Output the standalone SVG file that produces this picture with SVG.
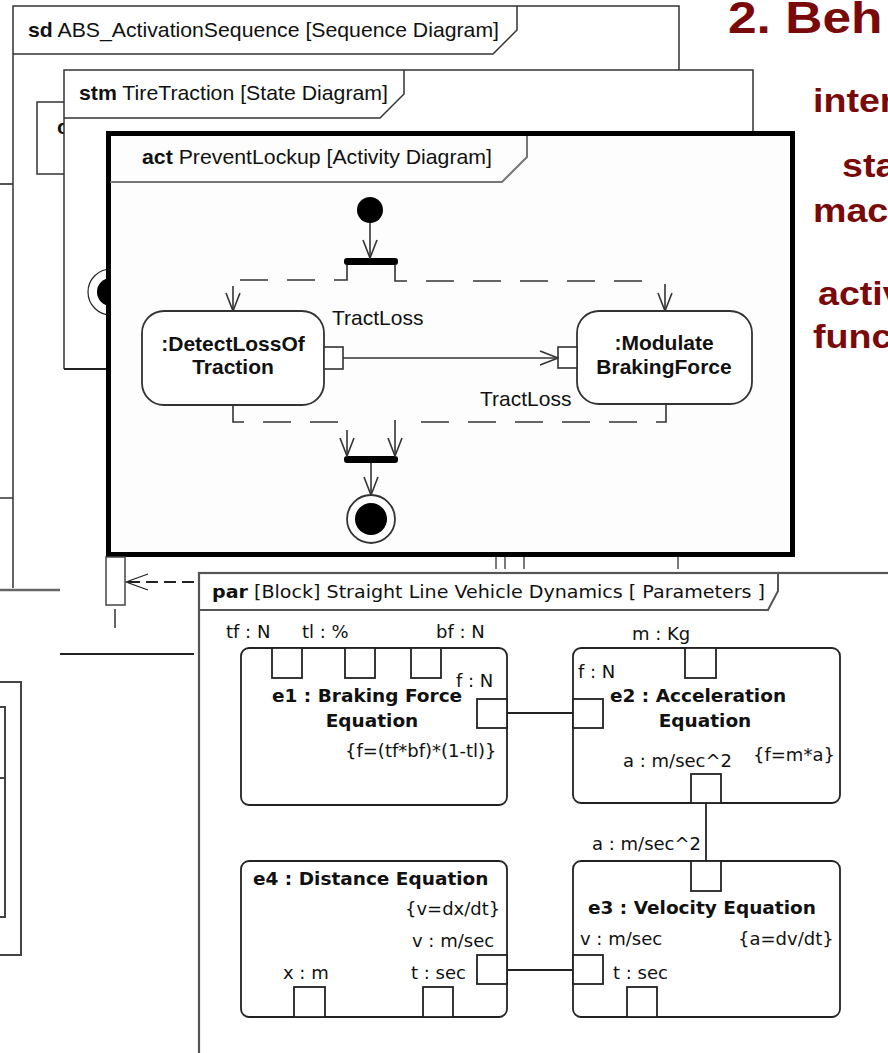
<svg xmlns="http://www.w3.org/2000/svg" width="888" height="1053" viewBox="0 0 888 1053">
<defs>
<style>
 .frame{fill:#fff;stroke:none}
 .edge{fill:none;stroke:#333;stroke-width:1.5}
 .t21{font-family:"Liberation Sans",Arial,sans-serif;font-size:21px;fill:#111}
 .b{font-weight:bold}
 .node{fill:#fff;stroke:#333;stroke-width:1.8}
 .pin{fill:#fff;stroke:#333;stroke-width:1.6}
 .flow{fill:none;stroke:#333;stroke-width:1.6}
 .dash{stroke-dasharray:28 19}
 .pt{font-family:"DejaVu Sans",sans-serif;font-size:18px;fill:#111}
 .pb{font-family:"DejaVu Sans",sans-serif;font-size:18.5px;font-weight:bold;fill:#111}
 .blk{fill:#fff;stroke:#222;stroke-width:1.8}
 .port{fill:#fff;stroke:#222;stroke-width:1.8}
 .wire{fill:none;stroke:#222;stroke-width:1.8}
 .mr{font-family:"Liberation Sans",Arial,sans-serif;font-weight:bold;fill:#7a0a0a}
</style>
<marker id="open" markerUnits="userSpaceOnUse" viewBox="0 0 20 16" refX="19" refY="8" markerWidth="20" markerHeight="16" orient="auto">
 <path d="M1,1 L19,8 L1,15" fill="none" stroke="#333" stroke-width="1.6"/>
</marker>
<marker id="msg" markerUnits="userSpaceOnUse" viewBox="0 0 24 18" refX="23" refY="9" markerWidth="24" markerHeight="18" orient="auto">
 <path d="M1,1 L23,9 L1,17" fill="none" stroke="#222" stroke-width="1.3"/>
</marker>
</defs>

<rect x="0" y="0" width="888" height="1053" fill="#fff"/>

<!-- fragments of frames at the left margin -->
<g id="left-fragments" fill="none">
 <line x1="0" y1="184" x2="13" y2="184" stroke="#555" stroke-width="2"/>
 <line x1="0" y1="498" x2="13" y2="498" stroke="#333" stroke-width="1.5"/>
 <line x1="0" y1="590" x2="60" y2="590" stroke="#666" stroke-width="2.5"/>
 <line x1="60" y1="654" x2="194" y2="654" stroke="#222" stroke-width="2.2"/>
 <path d="M0,682 H21 V955 H0" stroke="#444" stroke-width="2"/>
 <path d="M0,707 H5 V917 H0 M0,778 H5" stroke="#444" stroke-width="2"/>
</g>

<!-- sequence diagram frame -->
<g id="sd-frame">
 <rect class="frame" x="13" y="6" width="666" height="582"/>
 <path class="edge" d="M13,588 V6 H679 V70"/>
 <path class="edge" d="M13,54 H493 L517,30 V6"/>
 <text class="t21" x="28" y="37" textLength="471" lengthAdjust="spacingAndGlyphs"><tspan class="b">sd</tspan> ABS_ActivationSequence [Sequence Diagram]</text>
 <rect x="37" y="102" width="40" height="72" fill="#fff" stroke="#333" stroke-width="1.5"/>
 <text class="t21 b" x="57" y="134">c</text>
</g>

<!-- state machine frame -->
<g id="stm-frame">
 <rect class="frame" x="64" y="70" width="689" height="299"/>
 <path class="edge" d="M64,369 V70 H753 V131"/>
 <line x1="64" y1="369" x2="107" y2="369" stroke="#222" stroke-width="2.2"/>
 <path class="edge" d="M64,118 H380 L404,94 V70"/>
 <text class="t21" x="79" y="100" textLength="309" lengthAdjust="spacingAndGlyphs"><tspan class="b">stm</tspan> TireTraction [State Diagram]</text>
 <circle cx="111" cy="292" r="23" fill="#fff" stroke="#222" stroke-width="1.2"/>
 <circle cx="111" cy="292" r="14" fill="#000"/>
</g>

<!-- activity diagram frame -->
<g id="act-frame">
 <rect x="108.5" y="133.5" width="684" height="421" fill="#fdfdfd" stroke="#000" stroke-width="5"/>
 <path d="M110,182 H502 L527,157 V136" fill="none" stroke="#777" stroke-width="2"/>
 <text class="t21" x="142" y="164" textLength="350" lengthAdjust="spacingAndGlyphs"><tspan class="b">act</tspan> PreventLockup [Activity Diagram]</text>
</g>

<g id="act-initial"><circle cx="370" cy="210" r="13" fill="#000"/></g>
<g id="act-fork"><rect x="344" y="258" width="54" height="7" rx="3" fill="#000"/></g>
<g id="act-join"><rect x="344" y="456" width="54" height="7" rx="3" fill="#000"/></g>
<g id="act-final">
 <circle cx="371" cy="519" r="24" fill="#fff" stroke="#333" stroke-width="1.8"/>
 <circle cx="371" cy="519" r="16" fill="#000"/>
</g>

<g id="detect-loss-of-traction">
 <rect class="node" x="142" y="311" width="182" height="94" rx="22"/>
 <rect class="pin" x="324" y="347" width="19" height="22"/>
 <text class="t21 b" x="233" y="351" text-anchor="middle">:DetectLossOf</text>
 <text class="t21 b" x="233" y="374" text-anchor="middle">Traction</text>
 <text class="t21" x="332" y="325">TractLoss</text>
</g>

<g id="modulate-braking-force">
 <rect class="node" x="577" y="311" width="175" height="93" rx="22"/>
 <rect class="pin" x="558" y="347" width="19" height="21"/>
 <text class="t21 b" x="664" y="350" text-anchor="middle">:Modulate</text>
 <text class="t21 b" x="664" y="374" text-anchor="middle">BrakingForce</text>
 <text class="t21" x="480" y="406">TractLoss</text>
</g>

<!-- lifelines of the sequence diagram below the activity frame -->
<g id="lifelines" stroke="#222" stroke-width="1.2">
 <line x1="496" y1="557" x2="496" y2="569"/>
 <line x1="505" y1="557" x2="505" y2="569"/>
 <line x1="524" y1="557" x2="524" y2="569"/>
 <line x1="678" y1="557" x2="678" y2="569"/>
 <line x1="115" y1="609" x2="115" y2="628" stroke="#333" stroke-width="1.5"/>
</g>
<g id="activation">
 <rect x="106" y="557" width="19" height="48" fill="#fff" stroke="#444" stroke-width="1.5"/>
</g>

<!-- parametric diagram frame -->
<g id="par-frame">
 <rect x="199" y="573" width="700" height="500" fill="#fff" stroke="#555" stroke-width="2.2"/>
 <path d="M199,610 H768 L778,591 V573" fill="none" stroke="#555" stroke-width="2"/>
 <text class="pt" x="212" y="598" textLength="553" lengthAdjust="spacingAndGlyphs"><tspan font-weight="bold">par</tspan> [Block] Straight Line Vehicle Dynamics [ Parameters ]</text>
</g>

<g id="e1">
 <rect class="blk" x="241" y="648" width="266" height="157" rx="8"/>
 <rect class="port" x="272" y="648" width="30" height="30"/>
 <rect class="port" x="345" y="648" width="30" height="30"/>
 <rect class="port" x="411" y="648" width="30" height="30"/>
 <rect class="port" x="477" y="699" width="30" height="29"/>
 <text class="pt" x="226" y="638">tf : N</text>
 <text class="pt" x="302" y="638">tl : %</text>
 <text class="pt" x="436" y="638">bf : N</text>
 <text class="pt" x="456" y="687">f : N</text>
 <text class="pb" x="272" y="702">e1 : Braking Force</text>
 <text class="pb" x="372" y="727" text-anchor="middle">Equation</text>
 <text class="pt" x="345" y="757">{f=(tf*bf)*(1-tl)}</text>
</g>

<g id="e2">
 <rect class="blk" x="573" y="648" width="267" height="155" rx="8"/>
 <rect class="port" x="685" y="648" width="31" height="30"/>
 <rect class="port" x="573" y="699" width="30" height="29"/>
 <rect class="port" x="691" y="774" width="30" height="29"/>
 <text class="pt" x="632" y="640">m : Kg</text>
 <text class="pt" x="578" y="678">f : N</text>
 <text class="pb" x="610" y="702">e2 : Acceleration</text>
 <text class="pb" x="705" y="727" text-anchor="middle">Equation</text>
 <text class="pt" x="753" y="761">{f=m*a}</text>
 <text class="pt" x="623" y="767">a : m/sec^2</text>
</g>

<g id="e3">
 <rect class="blk" x="573" y="861" width="267" height="156" rx="8"/>
 <rect class="port" x="691" y="861" width="30" height="30"/>
 <rect class="port" x="573" y="955" width="30" height="29"/>
 <rect class="port" x="627" y="987" width="30" height="30"/>
 <text class="pt" x="592" y="850">a : m/sec^2</text>
 <text class="pb" x="588" y="914">e3 : Velocity Equation</text>
 <text class="pt" x="580" y="945">v : m/sec</text>
 <text class="pt" x="738" y="945">{a=dv/dt}</text>
 <text class="pt" x="613" y="979">t : sec</text>
</g>

<g id="e4">
 <rect class="blk" x="241" y="861" width="266" height="156" rx="8"/>
 <rect class="port" x="477" y="955" width="30" height="29"/>
 <rect class="port" x="294" y="987" width="31" height="30"/>
 <rect class="port" x="423" y="987" width="30" height="30"/>
 <text class="pb" x="253" y="885">e4 : Distance Equation</text>
 <text class="pt" x="405" y="915">{v=dx/dt}</text>
 <text class="pt" x="412" y="947">v : m/sec</text>
 <text class="pt" x="283" y="979">x : m</text>
 <text class="pt" x="411" y="979">t : sec</text>
</g>

<!-- connectors -->
<g id="connectors">
 <path class="flow" d="M370,223 V258" marker-end="url(#open)"/>
 <path class="flow dash" d="M347,265 V280 H236"/>
 <path class="flow" d="M233,286 V311" marker-end="url(#open)"/>
 <path class="flow dash" d="M395,265 V281 H650"/>
 <path class="flow" d="M665,284 V311" marker-end="url(#open)"/>
 <path class="flow dash" d="M233,405 V422 H340"/>
 <path class="flow" d="M347,430 V456" marker-end="url(#open)"/>
 <path class="flow dash" d="M666,404 V422 H410"/>
 <path class="flow" d="M395,420 V456" marker-end="url(#open)"/>
 <path class="flow" d="M371,463 V495" marker-end="url(#open)"/>
 <path class="flow" d="M343,358 H558" marker-end="url(#open)"/>
 <path d="M194,582 H126" fill="none" stroke="#222" stroke-width="1.8" stroke-dasharray="12 6" marker-end="url(#msg)"/>
 <line class="wire" x1="507" y1="713" x2="573" y2="713"/>
 <line class="wire" x1="706" y1="803" x2="706" y2="861"/>
 <line class="wire" x1="507" y1="970" x2="573" y2="970"/>
</g>

<!-- slide heading text, running off the right edge -->
<g id="heading">
 <text class="mr" font-size="44" transform="translate(728,33) scale(1.17,1)">2. Beh</text>
 <text class="mr" font-size="33" transform="translate(813,112) scale(1.14,1)">inter</text>
 <text class="mr" font-size="33" transform="translate(842,177) scale(1.14,1)">sta</text>
 <text class="mr" font-size="33" transform="translate(813,222) scale(1.14,1)">mac</text>
 <text class="mr" font-size="33" transform="translate(818,305) scale(1.14,1)">activ</text>
 <text class="mr" font-size="33" transform="translate(813,348) scale(1.14,1)">func</text>
</g>
</svg>
